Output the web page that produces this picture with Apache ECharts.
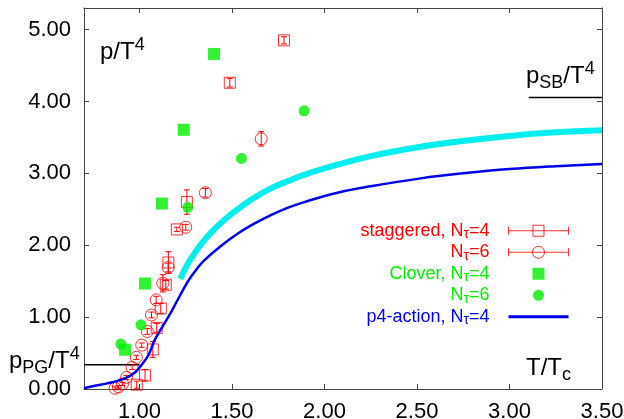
<!DOCTYPE html>
<html>
<head>
<meta charset="utf-8">
<script src="https://cdn.jsdelivr.net/npm/echarts@6/dist/echarts.min.js"></script>
<style>
html,body{margin:0;padding:0;background:#fff;}
#chart{width:624px;height:419px;}
</style>
</head>
<body>
<div id="chart"></div>
<script>
// ---- data ----
var xTicks = [1.0, 1.5, 2.0, 2.5, 3.0, 3.5];
var yTicks = [0, 1, 2, 3, 4, 5];

var stag4T = [0.985, 1.030, 1.072, 1.093, 1.115, 1.142, 1.156, 1.202, 1.256, 1.488, 1.781];
var stag4P = [0.06, 0.19, 0.55, 0.85, 1.12, 1.45, 1.76, 2.22, 2.60, 4.26, 4.85];
var stag4E = [0.05, 0.08, 0.11, 0.06, 0.07, 0.06, 0.15, 0.03, 0.17, 0.06, 0.05];

var stag6T = [0.868, 0.886, 0.908, 0.930, 0.960, 0.983, 1.012, 1.042, 1.065, 1.090, 1.126, 1.155, 1.250, 1.356, 1.658];
var stag6P = [0.01, 0.03, 0.07, 0.16, 0.30, 0.44, 0.61, 0.80, 1.03, 1.24, 1.47, 1.69, 2.25, 2.73, 3.48];
var stag6E = [0.02, 0.02, 0.02, 0.03, 0.03, 0.03, 0.03, 0.04, 0.04, 0.05, 0.12, 0.06, 0.04, 0.06, 0.10];

var clov4T = [0.922, 1.030, 1.121, 1.239, 1.403];
var clov4P = [0.546, 1.467, 2.58, 3.606, 4.661];

var clov6T = [0.899, 1.008, 1.261, 1.551, 1.890];
var clov6P = [0.625, 0.893, 2.528, 3.208, 3.869];

var p4T = [0.70, 0.76, 0.82, 0.87, 0.94, 0.98, 1.01, 1.05, 1.08, 1.12, 1.16, 1.20, 1.24, 1.27, 1.31, 1.35, 1.44, 1.53, 1.62, 1.71, 1.80, 1.89, 2.07, 2.25, 2.52, 2.75, 3.00, 3.25, 3.50];
var p4P = [0.01, 0.045, 0.075, 0.105, 0.17, 0.24, 0.33, 0.48, 0.67, 0.85, 1.02, 1.21, 1.40, 1.53, 1.67, 1.79, 1.99, 2.16, 2.30, 2.42, 2.52, 2.60, 2.73, 2.82, 2.93, 3.00, 3.06, 3.10, 3.13];

var cyanT = [1.22, 1.27, 1.35, 1.44, 1.53, 1.62, 1.71, 1.80, 1.89, 2.07, 2.25, 2.52, 2.75, 3.00, 3.25, 3.50];
var cyanP = [1.53, 1.78, 2.07, 2.31, 2.50, 2.66, 2.79, 2.89, 2.98, 3.12, 3.24, 3.37, 3.45, 3.52, 3.57, 3.60];

var pgT = [0.70, 1.00];
var pgP = [0.338, 0.338];
var sbT = [3.104, 3.50];
var sbP = [4.056, 4.056];

var legendNames = ['staggered, N\u03c4=4', 'N\u03c4=6 ', 'Clover, N\u03c4=4', 'N\u03c4=6', 'p4-action, N\u03c4=4'];

// ---- helpers ----
function zip(a, b) { return a.map(function (v, i) { return [v, b[i]]; }); }
function zip3(a, b, c) { return a.map(function (v, i) { return [v, b[i], c[i]]; }); }

var FONT = 'Liberation Sans, Arial, Helvetica, sans-serif';
var RED = '#ff0000', GREEN = '#00ee00', BLUE = '#0000ee', CYAN = '#00eeee';

function errRender(color) {
  return function (params, api) {
    var x = api.value(0), y = api.value(1), e = api.value(2);
    var t = api.coord([x, y + e]);
    var b = api.coord([x, y - e]);
    var c = 3;
    var st = { stroke: color, lineWidth: 1 };
    return {
      type: 'group',
      children: [
        { type: 'line', shape: { x1: t[0], y1: t[1], x2: b[0], y2: b[1] }, style: st },
        { type: 'line', shape: { x1: t[0] - c, y1: t[1], x2: t[0] + c, y2: t[1] }, style: st },
        { type: 'line', shape: { x1: b[0] - c, y1: b[1], x2: b[0] + c, y2: b[1] }, style: st }
      ]
    };
  };
}

var axisLineStyle = { color: '#444', width: 1 };

var chart = echarts.init(document.getElementById('chart'), null, { renderer: 'canvas' });

var legendLabel = {};
legendLabel[legendNames[0]] = '{r|staggered, N}{rs|\u03c4}{r|=4}';
legendLabel[legendNames[1]] = '{r|N}{rs|\u03c4}{r|=6}';
legendLabel[legendNames[2]] = '{g|Clover, N}{gs|\u03c4}{g|=4}';
legendLabel[legendNames[3]] = '{g|N}{gs|\u03c4}{g|=6}';
legendLabel[legendNames[4]] = '{b|p4-action, N}{bs|\u03c4}{b|=4}';

var subBase = { fontSize: 14, lineHeight: 11, verticalAlign: 'bottom', fontFamily: FONT };
var mainBase = { fontSize: 18, lineHeight: 21.5, fontFamily: FONT };

var option = {
  animation: false,
  backgroundColor: '#fff',
  grid: { left: 84, right: 22, top: 8, bottom: 30, containLabel: false, outerBoundsMode: 'none' },
  xAxis: [
    {
      type: 'value', min: 0.7, max: 3.5, position: 'bottom',
      axisLine: { show: true, onZero: false, lineStyle: axisLineStyle },
      axisTick: { show: true, inside: true, length: 5, lineStyle: axisLineStyle, customValues: xTicks },
      axisLabel: { show: true, customValues: xTicks, margin: 12, color: '#000', fontSize: 22, fontFamily: FONT,
        formatter: function (v) { return v.toFixed(2); } },
      splitLine: { show: false }
    },
    {
      type: 'value', min: 0.7, max: 3.5, position: 'top',
      axisLine: { show: true, onZero: false, lineStyle: axisLineStyle },
      axisTick: { show: true, inside: true, length: 5, lineStyle: axisLineStyle, customValues: xTicks },
      axisLabel: { show: false },
      splitLine: { show: false }
    }
  ],
  yAxis: [
    {
      type: 'value', min: 0, max: 5.3, position: 'left',
      axisLine: { show: true, onZero: false, lineStyle: axisLineStyle },
      axisTick: { show: true, inside: true, length: 5, lineStyle: axisLineStyle, customValues: yTicks },
      axisLabel: { show: true, customValues: yTicks, margin: 13, color: '#000', fontSize: 22, fontFamily: FONT,
        formatter: function (v) { return v.toFixed(2); } },
      splitLine: { show: false }
    },
    {
      type: 'value', min: 0, max: 5.3, position: 'right',
      axisLine: { show: true, onZero: false, lineStyle: axisLineStyle },
      axisTick: { show: true, inside: true, length: 5, lineStyle: axisLineStyle, customValues: yTicks },
      axisLabel: { show: false },
      splitLine: { show: false }
    }
  ],
  legend: {
    orient: 'vertical', align: 'right', right: 55, top: 220, padding: 0,
    itemWidth: 60, itemHeight: 12, itemGap: 0, selectedMode: false,
    formatter: function (name) { return legendLabel[name]; },
    textStyle: {
      fontSize: 18, lineHeight: 21.5, fontFamily: FONT, padding: [0, 14, 0, 0],
      rich: {
        r: Object.assign({ color: RED }, mainBase), rs: Object.assign({ color: RED }, subBase),
        g: Object.assign({ color: GREEN }, mainBase), gs: Object.assign({ color: GREEN }, subBase),
        b: Object.assign({ color: BLUE }, mainBase), bs: Object.assign({ color: BLUE }, subBase)
      }
    },
    data: [
      { name: legendNames[0], icon: 'path://M0 6L60 6M0 2L0 10M60 2L60 10M24.5 0.5L35.5 0.5L35.5 11.5L24.5 11.5Z',
        itemStyle: { color: '#fff', borderColor: RED, borderWidth: 1 } },
      { name: legendNames[1], icon: 'path://M0 6L60 6M0 2L0 10M60 2L60 10M24 6A6 6 0 1 0 36 6A6 6 0 1 0 24 6Z',
        itemStyle: { color: '#fff', borderColor: RED, borderWidth: 1 } },
      { name: legendNames[2], icon: 'path://M0 6L60 6M24 0L36 0L36 12L24 12Z',
        itemStyle: { color: GREEN, borderWidth: 0 } },
      { name: legendNames[3], icon: 'path://M0 6L60 6M24.5 6A5.5 5.5 0 1 0 35.5 6A5.5 5.5 0 1 0 24.5 6Z',
        itemStyle: { color: GREEN, borderWidth: 0 } },
      { name: legendNames[4], icon: 'path://M0 4.6L60 4.6L60 7.4L0 7.4Z M0 0L0 0 M0 12L0 12',
        itemStyle: { color: BLUE, borderWidth: 0 } }
    ]
  },
  graphic: [
    { type: 'text', x: 100, y: 36, silent: true,
      style: { text: 'p/T{sup|4}', fill: '#000', fontSize: 24, lineHeight: 32, fontFamily: FONT, verticalAlign: 'top',
        rich: { sup: { fontSize: 18, lineHeight: 18, verticalAlign: 'top', fontFamily: FONT } } } },
    { type: 'text', x: 526, y: 352, silent: true,
      style: { text: 'T/T{sub|c}', fill: '#000', fontSize: 24, lineHeight: 32, fontFamily: FONT, verticalAlign: 'top',
        rich: { sub: { fontSize: 18, lineHeight: 18, verticalAlign: 'bottom', fontFamily: FONT } } } },
    { type: 'text', x: 9, y: 345, silent: true,
      style: { text: 'p{sub|PG}/T{sup|4}', fill: '#000', fontSize: 24, lineHeight: 32, fontFamily: FONT, verticalAlign: 'top',
        rich: { sub: { fontSize: 18, lineHeight: 18, verticalAlign: 'bottom', fontFamily: FONT },
                sup: { fontSize: 18, lineHeight: 18, verticalAlign: 'top', fontFamily: FONT } } } },
    { type: 'text', x: 526, y: 60, silent: true,
      style: { text: 'p{sub|SB}/T{sup|4}', fill: '#000', fontSize: 24, lineHeight: 32, fontFamily: FONT, verticalAlign: 'top',
        rich: { sub: { fontSize: 18, lineHeight: 18, verticalAlign: 'bottom', fontFamily: FONT },
                sup: { fontSize: 18, lineHeight: 18, verticalAlign: 'top', fontFamily: FONT } } } }
  ],
  series: [
    { name: 'cyan', type: 'line', data: zip(cyanT, cyanP), smooth: 0.4, symbol: 'none', silent: true,
      lineStyle: { color: CYAN, width: 6, cap: 'butt' }, z: 1 },
    { name: 'pPG', type: 'line', data: zip(pgT, pgP), symbol: 'none', silent: true,
      lineStyle: { color: '#000', width: 1.5 }, z: 1 },
    { name: 'pSB', type: 'line', data: zip(sbT, sbP), symbol: 'none', silent: true,
      lineStyle: { color: '#000', width: 1.5 }, z: 1 },
    { name: legendNames[0], type: 'scatter', data: zip(stag4T, stag4P), symbol: 'rect', symbolSize: 11,
      itemStyle: { color: 'rgba(255,255,255,0)', borderColor: RED, borderWidth: 1 }, z: 2 },
    { name: 'stag4err', type: 'custom', data: zip3(stag4T, stag4P, stag4E), renderItem: errRender(RED), silent: true, z: 2 },
    { name: legendNames[1], type: 'scatter', data: zip(stag6T, stag6P), symbol: 'circle', symbolSize: 12,
      itemStyle: { color: 'rgba(255,255,255,0)', borderColor: RED, borderWidth: 1 }, z: 2 },
    { name: 'stag6err', type: 'custom', data: zip3(stag6T, stag6P, stag6E), renderItem: errRender(RED), silent: true, z: 2 },
    { name: legendNames[2], type: 'scatter', data: zip(clov4T, clov4P), symbol: 'rect', symbolSize: 12,
      itemStyle: { color: GREEN }, z: 3 },
    { name: legendNames[3], type: 'scatter', data: zip(clov6T, clov6P), symbol: 'circle', symbolSize: 11,
      itemStyle: { color: GREEN }, z: 3 },
    { name: legendNames[4], type: 'line', data: zip(p4T, p4P), smooth: 0.4, symbol: 'none', silent: true,
      lineStyle: { color: BLUE, width: 2.5 }, itemStyle: { color: BLUE }, z: 4 }
  ]
};

chart.setOption(option);
</script>
</body>
</html>
